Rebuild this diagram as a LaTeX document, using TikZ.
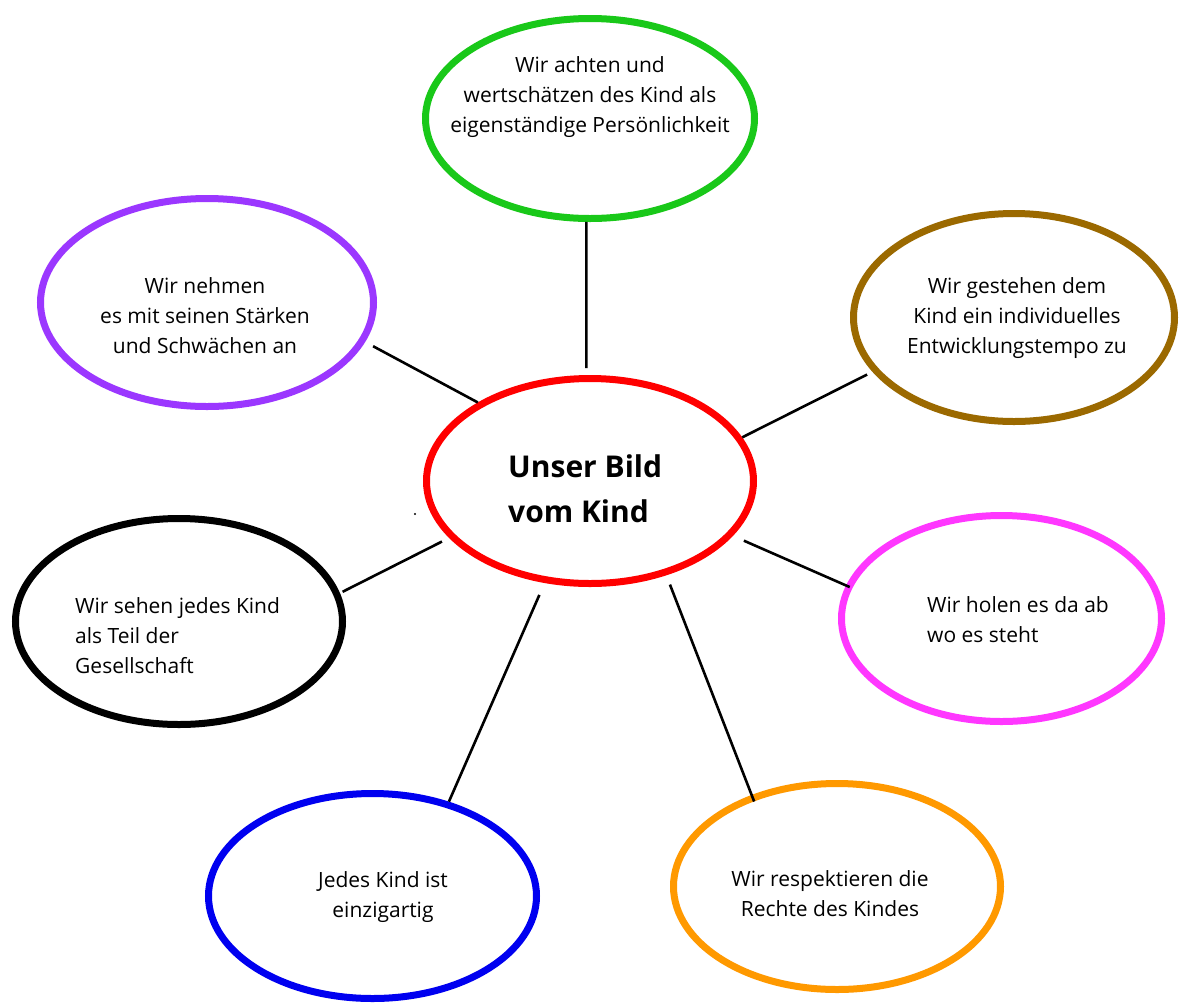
\documentclass[tikz,border=0pt]{standalone}
\usepackage{fontspec}
\setmainfont{Open Sans}
\usetikzlibrary{shapes.geometric}
\definecolor{cgreen}{RGB}{25,200,25}
\definecolor{cpurple}{RGB}{155,55,255}
\definecolor{cbrown}{RGB}{155,105,0}
\definecolor{cred}{RGB}{255,0,0}
\definecolor{cpink}{RGB}{255,55,255}
\definecolor{cblue}{RGB}{0,0,240}
\definecolor{corange}{RGB}{255,153,0}
\begin{document}
\begin{tikzpicture}[x=1pt,y=-1pt,
  ell/.style={ellipse,draw,line width=7pt,inner sep=0pt},
  conn/.style={line width=2.6pt,black},
  txt/.style={font=\fontsize{21}{30}\selectfont,inner sep=0pt},
  ctxt/.style={txt,align=center,anchor=base},
  ltxt/.style={txt,align=left,anchor=base west}]
\fill[white] (0,0) rectangle (1179,1005);
\useasboundingbox (0,0) rectangle (1179,1005);

\node[ell,draw=cgreen,minimum width=329,minimum height=200] (green) at (590,118.5) {};
\node[ell,draw=cpurple,minimum width=333,minimum height=208] (purple) at (207,302.5) {};
\node[ell,draw=cbrown,minimum width=321,minimum height=208] (brown) at (1014,317.5) {};
\node[ell,draw=cred,minimum width=327,minimum height=205] (red) at (590,481) {};
\node[ell,draw=cpink,minimum width=320,minimum height=206] (pink) at (1001.5,618.5) {};
\node[ell,draw=black,minimum width=327,minimum height=206] (black) at (179,621.5) {};
\node[ell,draw=cblue,minimum width=328,minimum height=205] (blue) at (372.5,896) {};
\node[ell,draw=corange,minimum width=327,minimum height=206] (orange) at (837,886.5) {};

\draw[conn,shorten >=7pt] (green.268) -- (red.92);
\draw[conn,shorten <=9pt] (purple.-14) -- (red.145);
\draw[conn,shorten <=6pt] (brown.201) -- (red.16);
\draw[conn,shorten <=12pt,shorten >=-4pt] (red.-21) -- (pink.168);
\draw[conn,shorten <=8pt,shorten >=3pt] (red.202) -- (black.10);
\draw[conn,shorten <=13pt] (red.246) -- (blue.51);
\draw[conn,shorten <=10pt,shorten >=-7pt] (red.-51) -- (orange.133);

\fill (415,514) circle (1.2);

\node[ctxt] (tgreen) at (590,132) {Wir achten und\\wertschätzen des Kind als\\eigenständige Persönlichkeit};
\node[ctxt] (tpurple) at (205,353) {Wir nehmen\\es mit seinen Stärken\\und Schwächen an};
\node[ctxt] (tbrown) at (1017,353) {Wir gestehen dem\\Kind ein individuelles\\Entwicklungstempo zu};
\node[ltxt,font=\fontsize{30}{45}\selectfont\bfseries] (tred) at (508,522) {Unser Bild\\vom Kind};
\node[ltxt] (tblack) at (75,673) {Wir sehen jedes Kind\\als Teil der\\Gesellschaft};
\node[ltxt] (tpink) at (927,642) {Wir holen es da ab\\wo es steht};
\node[ctxt] (tblue) at (383,917) {Jedes Kind ist\\einzigartig};
\node[ctxt] (torange) at (830,916) {Wir respektieren die\\Rechte des Kindes};
\end{tikzpicture}
\end{document}
